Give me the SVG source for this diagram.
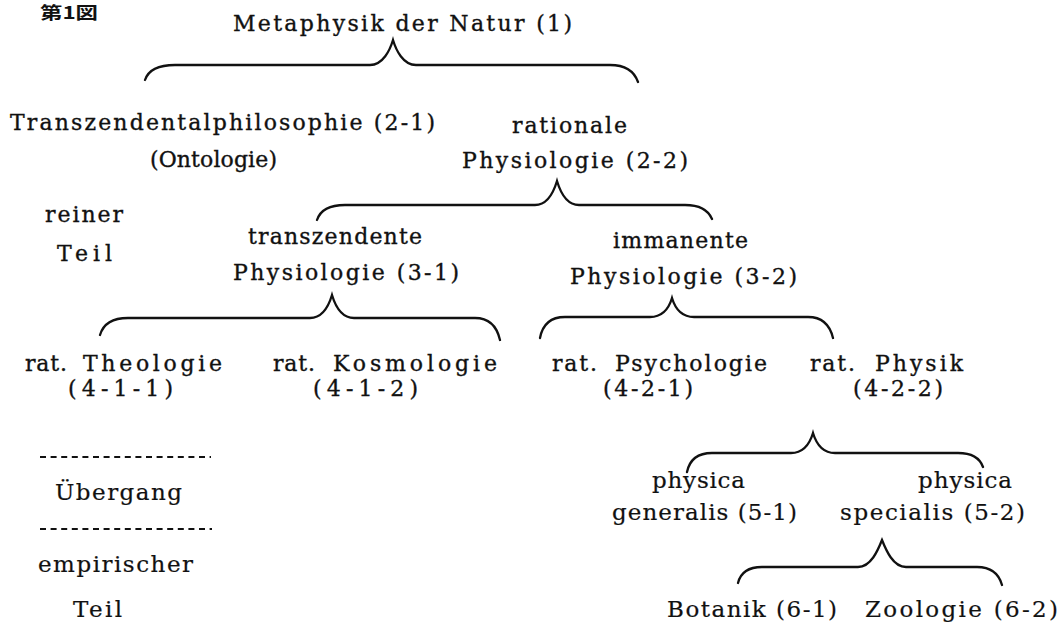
<svg xmlns="http://www.w3.org/2000/svg" width="1063" height="622" viewBox="0 0 1063 622">
<style>
text{font-family:"DejaVu Serif","Liberation Serif",serif;font-size:22px;fill:#111;stroke:#111;stroke-width:0.35;}
.lo{font-size:23px;stroke-width:0.2;}
.cap{font-family:"Noto Sans CJK JP",sans-serif;font-weight:bold;font-size:17px;stroke:none;}
.br{fill:none;stroke:#111;stroke-width:2.3;stroke-linecap:round;stroke-linejoin:miter;}
.dash{fill:none;stroke:#111;stroke-width:2.2;stroke-dasharray:6 4.6;}
</style>
<rect width="1063" height="622" fill="#fff"/>
<g id="caption"><text class="cap" x="40" y="19" textLength="58" lengthAdjust="spacingAndGlyphs">第1図</text></g>

<g id="connectors">
<path class="br" d="M145,80 Q150,65 175,65 L370,65 C383,65 390,50 393,40 C396,50 403,65 416,65 L610,65 Q632,65 638,82"/>
<path class="br" d="M317,220 Q322,205 345,205 L535,205 C548,205 554,191 557,181 C560,191 566,205 579,205 L685,205 Q706,205 712,219"/>
<path class="br" d="M100,335 Q105,318 128,318 L310,318 C323,318 329,305 332,295 C335,305 341,318 354,318 L475,318 Q495,318 500,340"/>
<path class="br" d="M540,338 Q544,317 565,317 L650,317 C663,317 669,308 672,298 C675,308 681,317 694,317 L808,317 Q828,317 833,338"/>
<path class="br" d="M687,472 Q691,453 712,453 L791,453 C804,453 810,443 813,433 C816,443 822,453 835,453 L958,453 Q978,453 983,467"/>
<path class="br" d="M738,583 Q742,567 762,567 L858,567 C871,567 878,550 882,540 C886,550 893,567 906,567 L977,567 Q997,567 1002,585"/>
<path class="dash" d="M40,457 L211,457"/>
<path class="dash" d="M40,529 L212,529"/>
</g>

<g id="n1"><text x="233" y="31" textLength="339" lengthAdjust="spacing">Metaphysik der Natur (1)</text></g>
<g id="n2-1">
<text x="10" y="130" textLength="425" lengthAdjust="spacing">Transzendentalphilosophie (2-1)</text>
<text x="150" y="167" textLength="127" lengthAdjust="spacing">(Ontologie)</text>
</g>
<g id="n2-2">
<text x="512" y="133" textLength="115" lengthAdjust="spacing">rationale</text>
<text x="462" y="168" textLength="226" lengthAdjust="spacing">Physiologie (2-2)</text>
</g>
<g id="reiner-teil">
<text x="45" y="222" textLength="78" lengthAdjust="spacing">reiner</text>
<text x="57" y="261" textLength="55" lengthAdjust="spacing">Teil</text>
</g>
<g id="n3-1">
<text x="248" y="244" textLength="174" lengthAdjust="spacing">transzendente</text>
<text x="233" y="280" textLength="226" lengthAdjust="spacing">Physiologie (3-1)</text>
</g>
<g id="n3-2">
<text x="613" y="248" textLength="135" lengthAdjust="spacing">immanente</text>
<text x="570" y="284" textLength="227" lengthAdjust="spacing">Physiologie (3-2)</text>
</g>
<g id="n4-1-1">
<text x="25" y="371" textLength="42" lengthAdjust="spacing">rat.</text>
<text x="83" y="371" textLength="139" lengthAdjust="spacing">Theologie</text>
<text x="68" y="396" textLength="105" lengthAdjust="spacing">(4-1-1)</text>
</g>
<g id="n4-1-2">
<text x="273" y="371" textLength="42" lengthAdjust="spacing">rat.</text>
<text x="333" y="371" textLength="164" lengthAdjust="spacing">Kosmologie</text>
<text x="313" y="396" textLength="105" lengthAdjust="spacing">(4-1-2)</text>
</g>
<g id="n4-2-1">
<text x="552" y="371" textLength="45" lengthAdjust="spacing">rat.</text>
<text x="615" y="371" textLength="152" lengthAdjust="spacing">Psychologie</text>
<text x="603" y="396" textLength="90" lengthAdjust="spacing">(4-2-1)</text>
</g>
<g id="n4-2-2">
<text x="810" y="371" textLength="45" lengthAdjust="spacing">rat.</text>
<text x="875" y="371" textLength="88" lengthAdjust="spacing">Physik</text>
<text x="853" y="396" textLength="90" lengthAdjust="spacing">(4-2-2)</text>
</g>
<g id="uebergang">
<text class="lo" x="55" y="500" textLength="127" lengthAdjust="spacing">Übergang</text>
</g>
<g id="empirischer-teil">
<text class="lo" x="38" y="572" textLength="155" lengthAdjust="spacing">empirischer</text>
<text class="lo" x="73" y="617" textLength="49" lengthAdjust="spacing">Teil</text>
</g>
<g id="n5-1">
<text class="lo" x="652" y="488" textLength="93" lengthAdjust="spacing">physica</text>
<text class="lo" x="612" y="520" textLength="185" lengthAdjust="spacing">generalis (5-1)</text>
</g>
<g id="n5-2">
<text class="lo" x="918" y="488" textLength="94" lengthAdjust="spacing">physica</text>
<text class="lo" x="840" y="520" textLength="185" lengthAdjust="spacing">specialis (5-2)</text>
</g>
<g id="n6-1"><text class="lo" x="667" y="617" textLength="170" lengthAdjust="spacing">Botanik (6-1)</text></g>
<g id="n6-2"><text class="lo" x="865" y="617" textLength="193" lengthAdjust="spacing">Zoologie (6-2)</text></g>
</svg>
